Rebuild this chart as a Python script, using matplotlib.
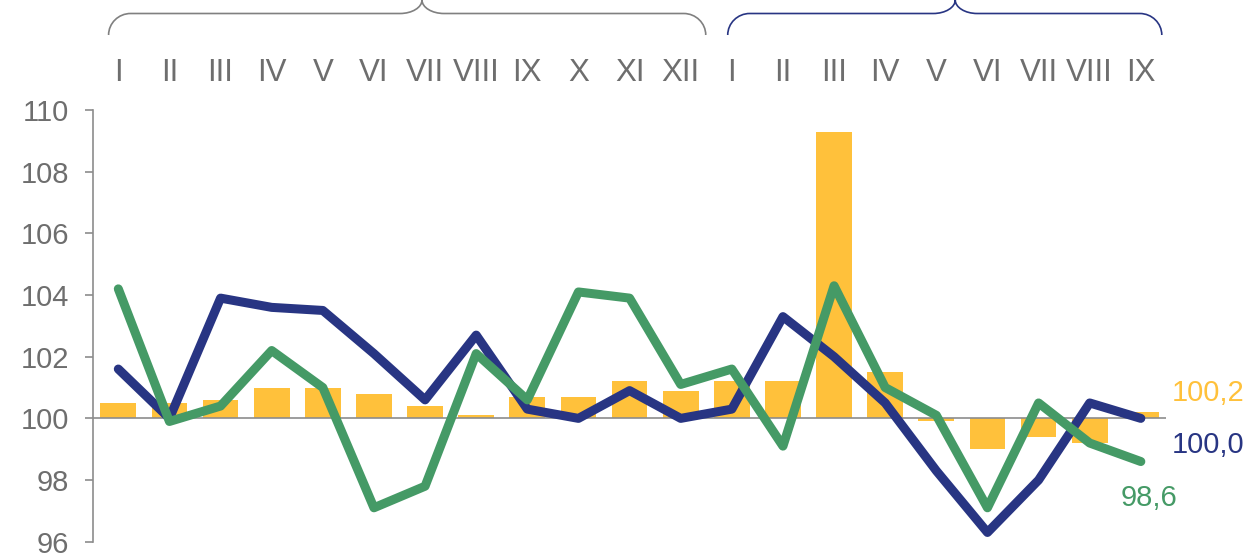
import numpy as np
import matplotlib.pyplot as plt
from matplotlib.path import Path
from matplotlib.patches import PathPatch
from matplotlib.transforms import blended_transform_factory

plt.rcParams['font.family'] = ['Liberation Sans', 'DejaVu Sans']

months = ['I', 'II', 'III', 'IV', 'V', 'VI', 'VII', 'VIII', 'IX', 'X', 'XI', 'XII',
          'I', 'II', 'III', 'IV', 'V', 'VI', 'VII', 'VIII', 'IX']

bars = [100.5, 100.5, 100.6, 101.0, 101.0, 100.8, 100.4, 100.1, 100.7, 100.7, 101.2, 100.9,
        101.2, 101.2, 109.3, 101.5, 99.9, 99.0, 99.4, 99.2, 100.2]
navy = [101.6, 100.0, 103.9, 103.6, 103.5, 102.1, 100.6, 102.7, 100.3, 100.0, 100.9, 100.0,
        100.3, 103.3, 102.0, 100.5, 98.3, 96.3, 98.0, 100.5, 100.0]
green = [104.2, 99.9, 100.4, 102.2, 101.0, 97.1, 97.8, 102.1, 100.6, 104.1, 103.9, 101.1,
         101.6, 99.1, 104.3, 101.0, 100.1, 97.1, 100.5, 99.2, 98.6]

c_bar = '#FFC13B'
c_navy = '#283583'
c_green = '#459A66'
c_text = '#6E6E6E'
c_axis = '#8C8C8C'

x = np.arange(len(months))

fig = plt.figure(figsize=(12.55, 5.56), dpi=100)
ax = fig.add_axes([0.0739, 0.0257, 0.8555, 0.7764])

ax.bar(x, np.array(bars) - 100, bottom=100, width=0.7, color=c_bar, zorder=2)
ax.axhline(100, color=c_axis, lw=1.2, zorder=3)
ax.plot(x, navy, color=c_navy, lw=6.5, solid_capstyle='round', solid_joinstyle='round', zorder=4)
ax.plot(x, green, color=c_green, lw=6.5, solid_capstyle='round', solid_joinstyle='round', zorder=5)

ax.set_xlim(-0.5, 20.5)
ax.set_ylim(96, 110)
ax.set_yticks(np.arange(96, 111, 2))
ax.set_xticks([])
for s in ['top', 'right', 'bottom']:
    ax.spines[s].set_visible(False)
ax.spines['left'].set_color(c_axis)
ax.spines['left'].set_linewidth(1.2)
ax.tick_params(axis='y', direction='out', length=6, width=1.2, color=c_axis,
               labelsize=21, labelcolor=c_text, pad=11)

# month labels and year braces above the plot
tr = blended_transform_factory(ax.transData, fig.transFigure)
for i, m in enumerate(months):
    ax.text(i, 1 - 73 / 556, m, transform=tr, ha='center', va='center',
            fontsize=22.5, color=c_text, clip_on=False)


def brace(xl, xm, xr, color):
    yt, yh, ye = 1.0, 1 - 13.5 / 556, 1 - 35 / 556
    r, r2, k = 0.43, 0.43, 0.55
    verts = [(xl, ye),
             (xl, ye + k * (yh - ye)), (xl + r - k * r, yh), (xl + r, yh),
             (xm - r2, yh),
             (xm - r2 + k * r2, yh), (xm, yt - k * (yt - yh)), (xm, yt),
             (xm, yt - k * (yt - yh)), (xm + r2 - k * r2, yh), (xm + r2, yh),
             (xr - r, yh),
             (xr - r + k * r, yh), (xr, ye + k * (yh - ye)), (xr, ye)]
    codes = [Path.MOVETO] + [Path.CURVE4] * 3 + [Path.LINETO] + [Path.CURVE4] * 6 \
        + [Path.LINETO] + [Path.CURVE4] * 3
    ax.add_patch(PathPatch(Path(verts, codes), transform=tr, fill=False,
                           edgecolor=color, lw=1.2, clip_on=False))


brace(-0.19, 5.94, 11.49, '#808080')
brace(11.92, 16.37, 20.41, c_navy)

# end labels
fmt = lambda v: f'{v:.1f}'.replace('.', ',')
ax.text(20.61, 100.82, fmt(bars[-1]), color=c_bar, fontsize=21, ha='left', va='center', clip_on=False)
ax.text(20.61, 99.14, fmt(navy[-1]), color=c_navy, fontsize=21, ha='left', va='center', clip_on=False)
ax.text(19.61, 97.42, fmt(green[-1]), color=c_green, fontsize=21, ha='left', va='center', clip_on=False)

fig.savefig('out.png', dpi=100)
